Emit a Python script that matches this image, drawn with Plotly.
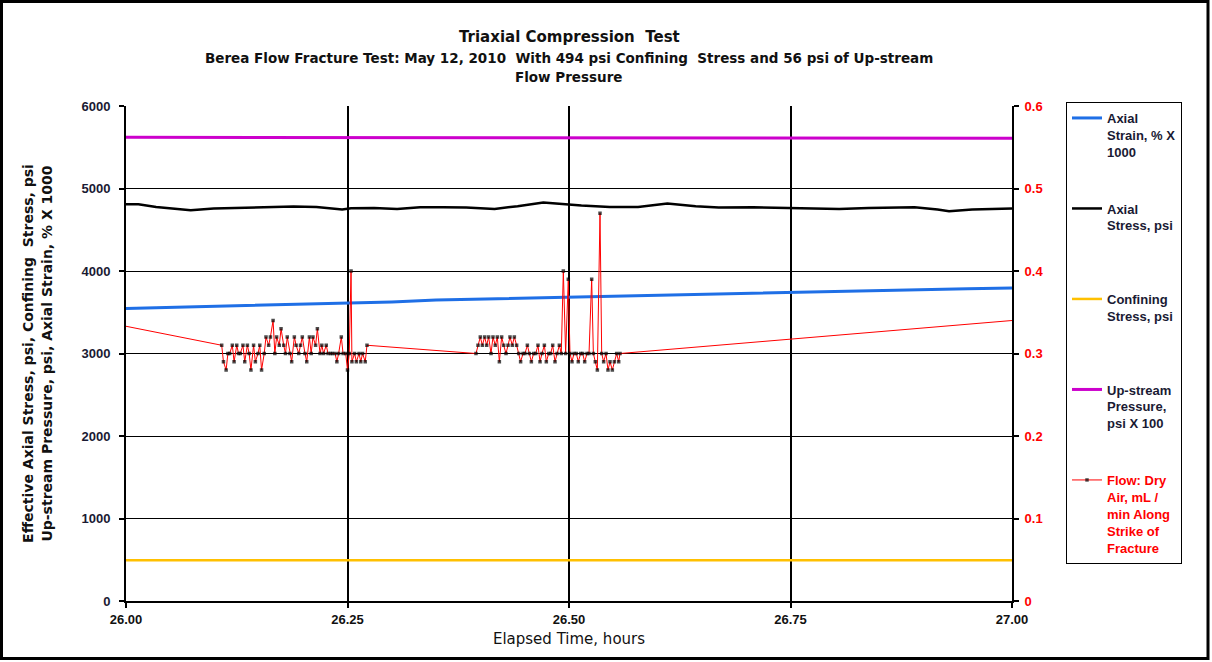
import plotly.graph_objects as go

# ---------------- data ----------------
strain_t = [26.00, 26.02, 26.05, 26.10, 26.15, 26.20, 26.25, 26.30, 26.35, 26.40, 26.45,
            26.50, 26.55, 26.60, 26.65, 26.70, 26.75, 26.80, 26.85, 26.90, 26.95, 27.00]
strain_v = [3545, 3550, 3558, 3572, 3585, 3600, 3612, 3625, 3648, 3660, 3670,
            3685, 3698, 3710, 3720, 3733, 3745, 3755, 3766, 3775, 3785, 3795]

stress_t = [26.000, 26.014, 26.034, 26.060, 26.073, 26.099, 26.125, 26.157, 26.189, 26.215,
            26.244, 26.254, 26.280, 26.306, 26.332, 26.358, 26.384, 26.416, 26.442, 26.471,
            26.494, 26.514, 26.546, 26.578, 26.611, 26.643, 26.669, 26.708, 26.747, 26.773,
            26.805, 26.838, 26.890, 26.916, 26.929, 26.955, 27.000]
stress_v = [4810, 4810, 4777, 4749, 4737, 4757, 4765, 4769, 4781, 4777,
            4745, 4761, 4765, 4753, 4773, 4773, 4769, 4753, 4785, 4830,
            4810, 4794, 4777, 4777, 4818, 4785, 4769, 4773, 4765, 4757,
            4753, 4765, 4773, 4745, 4725, 4745, 4758]

confining_t = [26.0, 27.0]
confining_v = [494, 494]

upstream_t = [26.00, 26.15, 26.30, 26.50, 26.70, 26.90, 26.97, 27.00]
upstream_v = [5620, 5618, 5612, 5610, 5609, 5607, 5605, 5608]

flow_t = [26.000,
          26.108, 26.110, 26.113, 26.115, 26.117, 26.120, 26.122, 26.125, 26.127, 26.129,
          26.132, 26.134, 26.137, 26.139, 26.141, 26.144, 26.146, 26.149, 26.151, 26.153,
          26.156, 26.158, 26.161, 26.163, 26.166, 26.168, 26.170, 26.173, 26.175, 26.178,
          26.180, 26.182, 26.185, 26.187, 26.190, 26.192, 26.195, 26.197, 26.199, 26.202,
          26.204, 26.207, 26.209, 26.211, 26.214, 26.216, 26.219, 26.221, 26.223, 26.226,
          26.228, 26.231, 26.233, 26.236, 26.238, 26.240, 26.243, 26.245, 26.248, 26.250,
          26.252, 26.254, 26.255, 26.258, 26.260, 26.263, 26.265, 26.267, 26.270, 26.272,
          26.3950, 26.3973, 26.3999, 26.4022, 26.4048, 26.4071, 26.4093, 26.4120, 26.4142, 26.4168,
          26.4191, 26.4214, 26.4240, 26.4263, 26.4289, 26.4312, 26.4334, 26.4360, 26.4383, 26.4409,
          26.4432, 26.4454, 26.4481, 26.4503, 26.4530, 26.4552, 26.4575, 26.4601, 26.4624, 26.4650,
          26.4673, 26.4695, 26.4722, 26.4744, 26.4771, 26.4793, 26.4816, 26.4842, 26.4865, 26.4891,
          26.4913, 26.4936, 26.4962, 26.4992, 26.5011, 26.5034, 26.5056, 26.5083, 26.5105, 26.5132,
          26.5154, 26.5177, 26.5203, 26.5226, 26.5256, 26.5275, 26.5297, 26.5320, 26.5350, 26.5369,
          26.5391, 26.5418, 26.5440, 26.5463, 26.5489, 26.5512, 26.5538, 26.5561, 26.5576,
          27.000]
flow_v = [0.333,
          0.31, 0.29, 0.28, 0.30, 0.30, 0.31, 0.29, 0.31, 0.30, 0.30,
          0.31, 0.29, 0.31, 0.30, 0.28, 0.31, 0.29, 0.30, 0.31, 0.28,
          0.30, 0.32, 0.31, 0.32, 0.34, 0.30, 0.32, 0.31, 0.33, 0.31,
          0.30, 0.32, 0.30, 0.29, 0.32, 0.31, 0.30, 0.31, 0.32, 0.30,
          0.29, 0.32, 0.30, 0.32, 0.31, 0.33, 0.30, 0.31, 0.30, 0.31,
          0.30, 0.30, 0.30, 0.30, 0.29, 0.30, 0.32, 0.30, 0.30, 0.28,
          0.30, 0.40, 0.29, 0.30, 0.29, 0.30, 0.29, 0.30, 0.29, 0.31,
          0.30, 0.31, 0.32, 0.31, 0.32, 0.31, 0.32, 0.30, 0.32, 0.31,
          0.32, 0.29, 0.32, 0.31, 0.30, 0.31, 0.32, 0.31, 0.32, 0.31,
          0.30, 0.29, 0.30, 0.30, 0.31, 0.30, 0.29, 0.30, 0.30, 0.31,
          0.29, 0.30, 0.31, 0.29, 0.30, 0.30, 0.31, 0.29, 0.30, 0.31,
          0.30, 0.40, 0.30, 0.39, 0.30, 0.29, 0.30, 0.30, 0.29, 0.30,
          0.30, 0.29, 0.30, 0.30, 0.39, 0.30, 0.29, 0.28, 0.47, 0.30,
          0.29, 0.30, 0.28, 0.29, 0.28, 0.29, 0.30, 0.29, 0.30,
          0.34]

x_ticks = [26.00, 26.25, 26.50, 26.75, 27.00]
x_ticklabels = ["26.00", "26.25", "26.50", "26.75", "27.00"]

legend_names = [
    "Axial<br>Strain, % X<br>1000<br>&nbsp;<br>&nbsp;",
    "Axial<br>Stress, psi<br>&nbsp;<br>&nbsp;<br>&nbsp;",
    "Confining<br>Stress, psi<br>&nbsp;<br>&nbsp;<br>&nbsp;",
    "Up-stream<br>Pressure,<br>psi X 100<br>&nbsp;<br>&nbsp;",
    "<span style='color:#FF0000'>Flow: Dry</span><br><span style='color:#FF0000'>Air, mL /</span><br>"
    "<span style='color:#FF0000'>min Along</span><br><span style='color:#FF0000'>Strike of</span><br>"
    "<span style='color:#FF0000'>Fracture</span>",
]

FONT = "Arial, Liberation Sans, sans-serif"
WIDE = "DejaVu Sans, Verdana, sans-serif"
W, H = 1212, 662
L, R, T, B = 126, 200, 106, 61
PW, PH = W - L - R, H - T - B


def px(xp):
    return (xp - L) / PW


def py(yp):
    return (H - B - yp) / PH


fig = go.Figure()
fig.add_trace(go.Scatter(x=strain_t, y=strain_v, mode="lines", name=legend_names[0],
                         line=dict(color="#1F6FE6", width=3), legendgroup="a"))
fig.add_trace(go.Scatter(x=stress_t, y=stress_v, mode="lines", name=legend_names[1],
                         line=dict(color="#000000", width=2.5), legendgroup="b"))
fig.add_trace(go.Scatter(x=confining_t, y=confining_v, mode="lines", name=legend_names[2],
                         line=dict(color="#FFC000", width=2.5), legendgroup="c"))
fig.add_trace(go.Scatter(x=upstream_t, y=upstream_v, mode="lines", name=legend_names[3],
                         line=dict(color="#CC00CC", width=3), legendgroup="d"))
sizes = [0] + [3.5] * (len(flow_t) - 2) + [0]
fig.add_trace(go.Scatter(x=flow_t, y=flow_v, mode="lines+markers", name=legend_names[4],
                         yaxis="y2", legendgroup="e",
                         line=dict(color="#FF0000", width=1),
                         marker=dict(symbol="square", size=sizes, color="#000000",
                                     line=dict(width=0))))

fig.update_layout(
    width=W, height=H,
    margin=dict(l=L, r=R, t=T, b=B, autoexpand=False),
    paper_bgcolor="white", plot_bgcolor="white",
    font=dict(family=FONT, size=13, color="#000000"),
    xaxis=dict(range=[26, 27], tickvals=x_ticks, ticktext=x_ticklabels,
               showgrid=True, gridcolor="#000000", gridwidth=2,
               showline=True, linecolor="#000000", linewidth=2,
               ticks="outside", ticklen=5, tickwidth=2, tickcolor="#000000",
               tickfont=dict(family=FONT, size=13, color="#111111", weight="bold"),
               title=dict(text="Elapsed Time, hours", standoff=8,
                          font=dict(family=WIDE, size=15, color="#111111")),
               zeroline=False, automargin=False),
    yaxis=dict(range=[0, 6000], dtick=1000,
               showgrid=True, gridcolor="#000000", gridwidth=1,
               showline=True, linecolor="#000000", linewidth=2,
               ticks="outside", ticklen=5, tickwidth=2, tickcolor="#000000",
               ticklabelstandoff=6,
               tickfont=dict(family=FONT, size=13, color="#1a1a33", weight="bold"),
               title=dict(text="Effective Axial Stress, psi, Confining  Stress, psi<br>"
                               "Up-stream Pressure, psi, Axial Strain, % X 1000",
                          standoff=26,
                          font=dict(family=WIDE, size=14, color="#111111", weight="bold")),
               zeroline=False, automargin=False),
    yaxis2=dict(range=[0, 0.6], dtick=0.1, overlaying="y", side="right",
                showgrid=False, showline=True, linecolor="#000000", linewidth=2,
                ticks="outside", ticklen=5, tickwidth=2, tickcolor="#000000",
                ticklabelstandoff=3,
                tickfont=dict(family=FONT, size=13, color="#FF0000", weight="bold"),
                zeroline=False, automargin=False),
    legend=dict(x=px(1066), y=py(102), xanchor="left", yanchor="top",
                bordercolor="#000000", borderwidth=1, bgcolor="white",
                font=dict(family=FONT, size=13, color="#1a1a33", weight="bold"),
                valign="top", traceorder="grouped", tracegroupgap=3, itemwidth=30,
                maxheight=500),
    showlegend=True,
)

fig.add_annotation(text="<b>Triaxial Compression  Test</b>", x=0.5, y=py(37),
                   xref="paper", yref="paper", showarrow=False, yanchor="middle",
                   font=dict(family=WIDE, size=15, color="#111111"))
fig.add_annotation(text="<b>Berea Flow Fracture Test: May 12, 2010  With 494 psi Confining  Stress and 56 psi of Up-stream</b>",
                   x=0.5, y=py(58), xref="paper", yref="paper", showarrow=False, yanchor="middle",
                   font=dict(family=WIDE, size=13.5, color="#111111"))
fig.add_annotation(text="<b>Flow Pressure</b>", x=0.5, y=py(77),
                   xref="paper", yref="paper", showarrow=False, yanchor="middle",
                   font=dict(family=WIDE, size=13.5, color="#111111"))

fig.add_shape(type="rect", xref="paper", yref="paper",
              x0=px(1.5), x1=px(1208), y0=py(658.5), y1=py(1.5),
              line=dict(color="#000000", width=3), fillcolor="rgba(0,0,0,0)", layer="above")

fig.write_html("out.html")
